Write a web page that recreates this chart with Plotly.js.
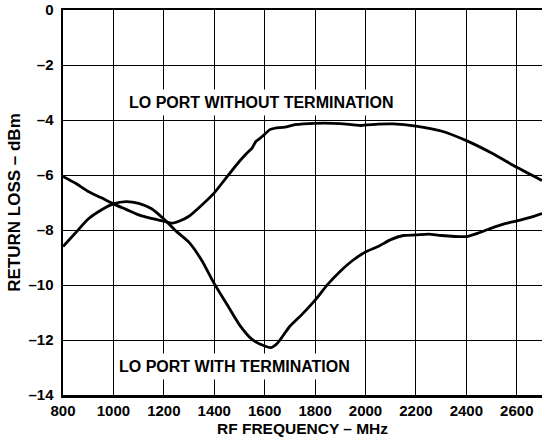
<!DOCTYPE html>
<html>
<head>
<meta charset="utf-8">
<script src="https://cdn.plot.ly/plotly-3.0.1.min.js"></script>
<style>html,body{margin:0;padding:0;background:#fff;}#chart{width:542px;height:444px;}</style>
</head>
<body>
<div id="chart"></div>
<script>
// Data
const freqWithout = [800,850,900,950,1000,1050,1100,1150,1200,1230,1260,1300,1350,1400,1450,1500,1530,1550,1565,1580,1600,1620,1640,1680,1720,1800,1900,1980,2050,2110,2200,2300,2400,2500,2600,2700];
const lossWithout = [-6.05,-6.3,-6.6,-6.82,-7.05,-7.25,-7.45,-7.58,-7.68,-7.75,-7.68,-7.5,-7.1,-6.65,-6.07,-5.5,-5.2,-5.02,-4.78,-4.68,-4.52,-4.35,-4.3,-4.26,-4.17,-4.12,-4.13,-4.2,-4.15,-4.14,-4.22,-4.4,-4.75,-5.2,-5.72,-6.2];
const freqWith = [800,850,900,950,1000,1050,1100,1150,1200,1250,1300,1350,1400,1450,1500,1550,1600,1625,1650,1700,1750,1800,1850,1900,1950,2000,2050,2100,2150,2200,2250,2300,2400,2450,2500,2550,2600,2650,2700];
const lossWith = [-8.6,-8.1,-7.6,-7.28,-7.05,-6.97,-7.03,-7.22,-7.6,-8.05,-8.45,-9.1,-9.95,-10.7,-11.45,-11.98,-12.22,-12.28,-12.12,-11.5,-11.05,-10.55,-9.98,-9.5,-9.1,-8.8,-8.6,-8.35,-8.2,-8.18,-8.15,-8.2,-8.24,-8.1,-7.93,-7.78,-7.67,-7.55,-7.4];
const xTicks = [800,1000,1200,1400,1600,1800,2000,2200,2400,2600];
const yTicks = [0,-2,-4,-6,-8,-10,-12,-14];
const labelWithout = "LO PORT WITHOUT TERMINATION";
const labelWith = "LO PORT WITH TERMINATION";

const fam = "Liberation Sans, Arial, sans-serif";
const font = {family: fam, size: 15, color: "#000", weight: "bold"};
const annFont = {family: fam, size: 16, color: "#000", weight: "bold"};
const xTitleFont = {family: fam, size: 15.5, color: "#000", weight: "bold"};
const yTitleFont = {family: fam, size: 17, color: "#000", weight: "bold"};

const traces = [
  {x: freqWithout, y: lossWithout, mode: "lines", name: labelWithout,
   line: {color: "#000", width: 2.8, shape: "spline", smoothing: 0.6}},
  {x: freqWith, y: lossWith, mode: "lines", name: labelWith,
   line: {color: "#000", width: 2.8, shape: "spline", smoothing: 0.6}}
];

const layout = {
  width: 542, height: 444,
  margin: {l: 63, r: 0, t: 10, b: 49},
  paper_bgcolor: "#fff", plot_bgcolor: "#fff",
  showlegend: false,
  font: font,
  xaxis: {
    range: [800, 2700], tickvals: xTicks, ticktext: xTicks.map(String),
    showgrid: true, gridcolor: "#000", gridwidth: 1,
    showline: true, linecolor: "#000", linewidth: 2.5, mirror: true,
    ticks: "", tickfont: font, zeroline: false,
    title: {text: "RF FREQUENCY – MHz", font: xTitleFont, standoff: 6}
  },
  yaxis: {
    range: [-14, 0], tickvals: yTicks, ticktext: yTicks.map(v => v === 0 ? "0" : "–" + Math.abs(v)),
    showgrid: true, gridcolor: "#000", gridwidth: 1,
    showline: true, linecolor: "#000", linewidth: 2.5,
    ticks: "", tickfont: font, zeroline: false, ticklabelstandoff: 4,
    title: {text: "RETURN LOSS – dBm", font: yTitleFont, standoff: 4}
  },
  annotations: [
    {x: 1587, y: -3.38, xref: "x", yref: "y", text: labelWithout, showarrow: false,
     font: annFont, bgcolor: "#fff", borderpad: 4},
    {x: 1480, y: -12.98, xref: "x", yref: "y", text: labelWith, showarrow: false,
     font: annFont, bgcolor: "#fff", borderpad: 4}
  ]
};

Plotly.newPlot("chart", traces, layout, {staticPlot: true, displayModeBar: false});
</script>
</body>
</html>
